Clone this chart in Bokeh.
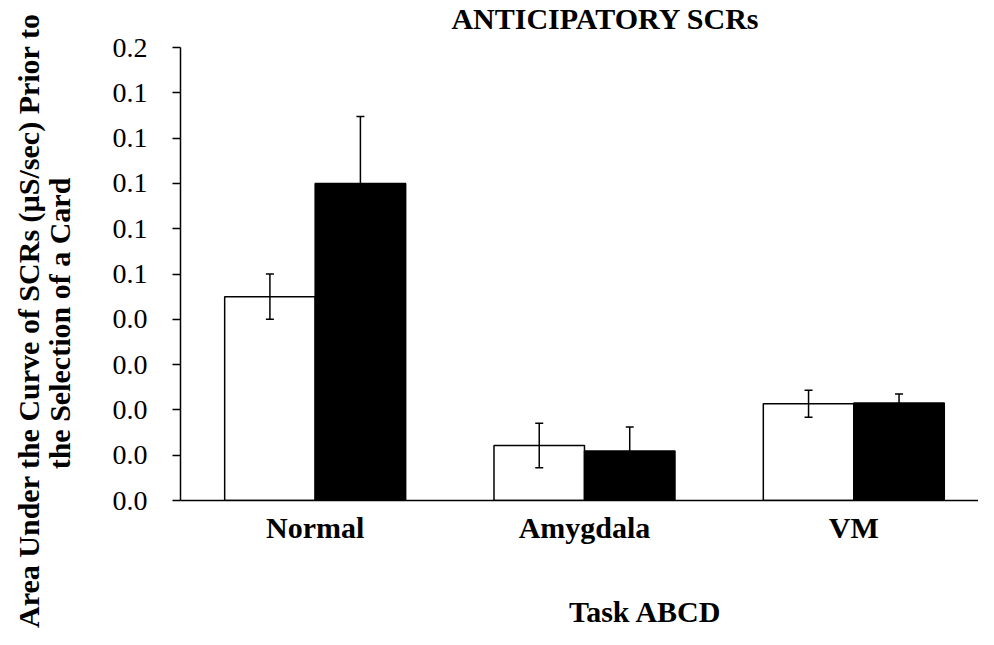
import math
from bokeh.plotting import figure
from bokeh.layouts import row, column
from bokeh.models import ColumnDataSource, Whisker, TeeHead, Label, FixedTicker
from bokeh.embed import file_html
from bokeh.resources import INLINE

# ---- data ----
categories = ["Normal", "Amygdala", "VM"]
white_means = [0.090, 0.0243, 0.0427]
white_err = [0.010, 0.0098, 0.006]
black_means = [0.140, 0.0218, 0.0430]
black_err = [0.0295, 0.0106, 0.004]
y_ticks = [0.0, 0.02, 0.04, 0.06, 0.08, 0.10, 0.12, 0.14, 0.16, 0.18, 0.20]
y_tick_labels = ["0.0", "0.0", "0.0", "0.0", "0.0", "0.1", "0.1", "0.1", "0.1", "0.1", "0.2"]
title_text = "ANTICIPATORY SCRs"
x_title = "Task ABCD"
y_title_1 = "Area Under the Curve of SCRs (\u00b5S/sec) Prior to"
y_title_2 = "the Selection of a Card"

FONT = "Liberation Serif"
bar_w = 0.336
centers = [i + 0.5 for i in range(len(categories))]
white_x = [c - bar_w / 2 for c in centers]
black_x = [c + bar_w / 2 for c in centers]

TOTAL_H = 629
LEFT_W = 100
MAIN_W = 878
TOP_H = 32
BOTTOM_H = 79
MAIN_H = TOTAL_H - TOP_H - BOTTOM_H
FRAME_LEFT = 180  # frames in the column are aligned with the main frame


def text_panel(w, h):
    f = figure(width=w, height=h, x_range=(0, 1), y_range=(0, 1),
               output_backend="svg", toolbar_location=None,
               x_axis_location=None, y_axis_location=None, min_border=0)
    f.outline_line_color = None
    f.xgrid.visible = False
    f.ygrid.visible = False
    f.background_fill_color = "white"
    f.border_fill_color = "white"
    return f


def add_text(f, text, sx, sy, angle=0.0):
    f.add_layout(Label(x=sx, y=sy, x_units="screen", y_units="screen", text=text,
                       angle=angle, text_font=FONT, text_font_style="bold",
                       text_font_size="30px", text_align="center",
                       text_baseline="alphabetic", text_color="black"))


# ---- main chart ----
p = figure(width=MAIN_W, height=MAIN_H, x_range=(0, 2.963), y_range=(0, 0.2),
           output_backend="svg", toolbar_location=None,
           min_border_left=80, min_border_right=0,
           min_border_top=15, min_border_bottom=50)
p.outline_line_color = None
p.xgrid.visible = False
p.ygrid.visible = False
p.background_fill_color = "white"
p.border_fill_color = "white"

ws = ColumnDataSource(dict(x=white_x, top=white_means,
                           lower=[m - e for m, e in zip(white_means, white_err)],
                           upper=[m + e for m, e in zip(white_means, white_err)]))
bs = ColumnDataSource(dict(x=black_x, top=black_means,
                           lower=[m - e for m, e in zip(black_means, black_err)],
                           upper=[m + e for m, e in zip(black_means, black_err)]))

p.vbar(x="x", top="top", bottom=0, width=bar_w, source=ws,
       fill_color="white", line_color="black", line_width=1.5)
p.vbar(x="x", top="top", bottom=0, width=bar_w, source=bs,
       fill_color="black", line_color="black", line_width=1.5)

for src in (ws, bs):
    w = Whisker(base="x", lower="lower", upper="upper", source=src, level="overlay",
                dimension="height", line_color="black", line_width=1.5,
                upper_head=TeeHead(size=8, line_width=1.5, line_color="black"),
                lower_head=TeeHead(size=8, line_width=1.5, line_color="black"))
    p.add_layout(w)

yax = p.yaxis[0]
yax.ticker = FixedTicker(ticks=y_ticks)
yax.major_label_overrides = {t: l for t, l in zip(y_ticks, y_tick_labels)}
yax.major_tick_out = 8
yax.major_tick_in = 0
yax.minor_tick_line_color = None
yax.major_label_standoff = 25
yax.major_label_text_font = FONT
yax.major_label_text_font_size = "28px"
yax.major_label_text_color = "black"
yax.axis_line_color = "black"
yax.axis_line_width = 1.5
yax.major_tick_line_width = 1.5

xax = p.xaxis[0]
xax.ticker = FixedTicker(ticks=centers)
xax.major_label_overrides = {c: n for c, n in zip(centers, categories)}
xax.major_tick_line_color = None
xax.minor_tick_line_color = None
xax.major_tick_out = 0
xax.major_tick_in = 0
xax.major_label_standoff = 10
xax.major_label_text_font = FONT
xax.major_label_text_font_style = "bold"
xax.major_label_text_font_size = "30px"
xax.major_label_text_color = "black"
xax.axis_line_color = "black"
xax.axis_line_width = 1.5

# ---- text panels ----
left = text_panel(LEFT_W, TOTAL_H)
add_text(left, y_title_1, 28, TOTAL_H - 320, math.pi / 2)
add_text(left, y_title_2, 59, TOTAL_H - 323, math.pi / 2)

top = text_panel(MAIN_W, TOP_H)
add_text(top, title_text, 605 - FRAME_LEFT, 14)

bottom = text_panel(MAIN_W, BOTTOM_H)
add_text(bottom, x_title, 645 - FRAME_LEFT, 18)

layout = row(left, column(top, p, bottom, spacing=0), spacing=0)

open("out.html", "w").write(file_html(layout, INLINE))
